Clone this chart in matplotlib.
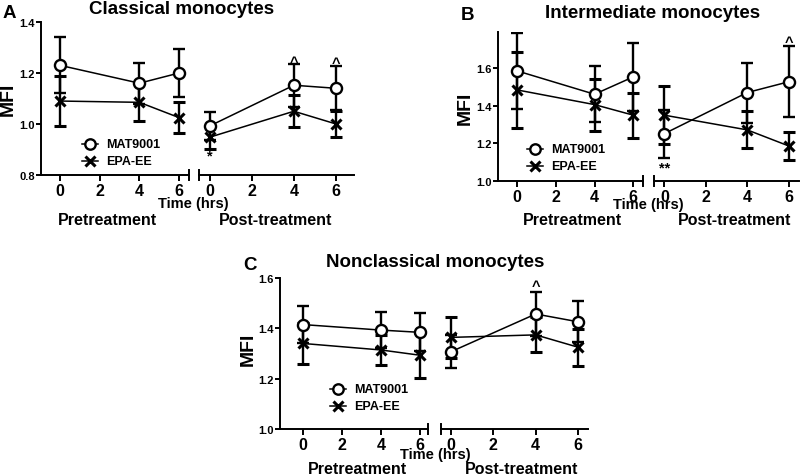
import matplotlib
matplotlib.use('Agg')
import matplotlib.pyplot as plt
import numpy as np

plt.rcParams['font.family'] = ['Liberation Sans', 'DejaVu Sans']
plt.rcParams['font.weight'] = 'bold'

# Данные: время (ч) и значения MFI со стандартными ошибками
times = [0, 4, 6]

mat_pre_A = [1.23, 1.16, 1.20]
mat_pre_A_err = [0.11, 0.08, 0.095]
epa_pre_A = [1.09, 1.085, 1.025]
epa_pre_A_err = [0.097, 0.075, 0.06]
mat_post_A = [0.992, 1.152, 1.14]
mat_post_A_err = [0.055, 0.085, 0.087]
epa_post_A = [0.948, 1.05, 1.0]
epa_post_A_err = [0.045, 0.062, 0.052]

mat_pre_B = [1.584, 1.46, 1.552]
mat_pre_B_err = [0.2, 0.148, 0.18]
epa_pre_B = [1.483, 1.405, 1.349]
epa_pre_B_err = [0.2, 0.138, 0.12]
mat_post_B = [1.251, 1.469, 1.526]
mat_post_B_err = [0.127, 0.159, 0.188]
epa_post_B = [1.349, 1.271, 1.186]
epa_post_B_err = [0.155, 0.098, 0.076]

mat_pre_C = [1.415, 1.393, 1.384]
mat_pre_C_err = [0.072, 0.071, 0.075]
epa_pre_C = [1.340, 1.314, 1.293]
epa_pre_C_err = [0.08, 0.06, 0.09]
mat_post_C = [1.307, 1.457, 1.426]
mat_post_C_err = [0.066, 0.089, 0.081]
epa_post_C = [1.364, 1.374, 1.325]
epa_post_C_err = [0.08, 0.07, 0.073]

W, H = 800, 477
fig = plt.figure(figsize=(W / 100, H / 100), dpi=100)


def px_axes(x0, x1, ytop, ybot):
    """Оси по пиксельным координатам"""
    return fig.add_axes([x0 / W, 1 - ybot / H, (x1 - x0) / W, (ybot - ytop) / H])


def draw_series(ax, mat, mat_err, epa, epa_err):
    ax.errorbar(times, epa, yerr=epa_err, color='black', lw=1.1, marker='x',
                ms=7, mew=2.2, elinewidth=1.7, capsize=4.5, capthick=1.7, zorder=3)
    ax.errorbar(times, mat, yerr=mat_err, color='black', lw=1.1, marker='o',
                ms=8, mfc='white', mew=1.7, elinewidth=1.7, capsize=4.5,
                capthick=1.7, zorder=4)


def style(ax, xlim, ylim, yticks, show_y):
    ax.set_xlim(*xlim)
    ax.set_ylim(*ylim)
    ax.set_xticks([0, 2, 4, 6])
    ax.set_xticklabels(['0', '2', '4', '6'], fontsize=11.5, fontweight='bold')
    for s in ['top', 'right']:
        ax.spines[s].set_visible(False)
    ax.spines['bottom'].set_linewidth(1.4)
    ax.tick_params(axis='x', direction='out', length=4, width=1.4, pad=2)
    if show_y:
        ax.spines['left'].set_linewidth(1.4)
        ax.set_yticks(yticks)
        ax.set_yticklabels([f'{v:.1f}' for v in yticks], fontsize=8, fontweight='bold')
        ax.tick_params(axis='y', direction='out', length=3.5, width=1.4, pad=1)
    else:
        ax.spines['left'].set_visible(False)
        ax.set_yticks([])
    ax.patch.set_alpha(0)


def break_mark(ax, side):
    x = 1 if side == 'right' else 0
    ax.plot([x, x], [-0.035, 0.035], transform=ax.transAxes, color='black',
            lw=1.4, clip_on=False)


def panel(letter, title, box, data, ylim, yticks, texts, marks, legend_xy):
    yaxis_x, left_end, right_start, right_end, ytop, ybot, xl_left, xl_right = box
    mat_pre, mat_pre_err, epa_pre, epa_pre_err, mat_post, mat_post_err, epa_post, epa_post_err = data

    ax1 = px_axes(yaxis_x, left_end, ytop, ybot)
    ax2 = px_axes(right_start, right_end, ytop, ybot)
    draw_series(ax1, mat_pre, mat_pre_err, epa_pre, epa_pre_err)
    draw_series(ax2, mat_post, mat_post_err, epa_post, epa_post_err)
    style(ax1, xl_left, ylim, yticks, True)
    style(ax2, xl_right, ylim, yticks, False)
    break_mark(ax1, 'right')
    break_mark(ax2, 'left')

    # Подписи панели
    (lx, ly), (tx, ty), (mx, my), (timex, timey), (prex, prey), (postx, posty) = texts
    fig.text(lx / W, 1 - ly / H, letter, fontsize=13.5, fontweight='bold', ha='center', va='center')
    fig.text(tx / W, 1 - ty / H, title, fontsize=13.5, fontweight='bold', ha='center', va='center')
    fig.text(mx / W, 1 - my / H, 'MFI', fontsize=14, fontweight='bold', ha='center',
             va='center', rotation=90)
    fig.text(timex / W, 1 - timey / H, 'Time (hrs)', fontsize=10.5, fontweight='bold',
             ha='center', va='center')
    fig.text(prex / W, 1 - prey / H, 'Pretreatment', fontsize=11.5, fontweight='bold',
             ha='center', va='center')
    fig.text(postx / W, 1 - posty / H, 'Post-treatment', fontsize=11.5, fontweight='bold',
             ha='center', va='center')

    # Значки значимости
    for x, y, s in marks:
        ax2.text(x, y, s, fontsize=10.5, fontweight='bold', ha='center', va='center')

    # Легенда
    hx, hy = legend_xy
    for i, (mk, lab) in enumerate([('o', 'MAT9001'), ('x', 'EPA-EE')]):
        yy = 1 - (hy + i * 17) / H
        fig.add_artist(plt.Line2D([(hx - 8) / W, (hx + 8) / W], [yy, yy], color='black',
                                  lw=1.1, marker=None))
        fig.add_artist(plt.Line2D([hx / W], [yy], color='black', marker=mk,
                                  ms=7.5 if mk == 'o' else 6.5, mfc='white',
                                  mew=1.7 if mk == 'o' else 2.2))
        fig.text((hx + 16) / W, yy, lab, fontsize=9, fontweight='bold', ha='left', va='center')


panel('A', 'Classical monocytes',
      (41, 189, 199, 354, 23, 176, (-0.96, 6.5), (-0.5, 6.85)),
      (mat_pre_A, mat_pre_A_err, epa_pre_A, epa_pre_A_err,
       mat_post_A, mat_post_A_err, epa_post_A, epa_post_A_err),
      (0.8, 1.4), [0.8, 1.0, 1.2, 1.4],
      ((9, 13), (182, 9), (8, 99), (193, 204), (107, 221), (276, 221)),
      [(0, 0.875, '*'), (4, 1.245, '^'), (6, 1.24, '^')],
      (90, 145))

panel('B', 'Intermediate monocytes',
      (498, 643, 654, 799, 33, 182, (-0.98, 6.5), (-0.5, 6.5)),
      (mat_pre_B, mat_pre_B_err, epa_pre_B, epa_pre_B_err,
       mat_post_B, mat_post_B_err, epa_post_B, epa_post_B_err),
      (1.0, 1.79), [1.0, 1.2, 1.4, 1.6],
      ((468, 15), (653, 13), (465, 108), (648, 205), (572, 221), (735, 221)),
      [(0, 1.07, '**'), (6, 1.735, '^')],
      (535, 150))

panel('C', 'Nonclassical monocytes',
      (280, 428, 441, 588, 279, 430, (-1.16, 6.4), (-0.47, 6.47)),
      (mat_pre_C, mat_pre_C_err, epa_pre_C, epa_pre_C_err,
       mat_post_C, mat_post_C_err, epa_post_C, epa_post_C_err),
      (1.0, 1.6), [1.0, 1.2, 1.4, 1.6],
      ((250, 265), (435, 263), (248, 349), (435, 455), (357, 470), (522, 470)),
      [(4, 1.57, '^')],
      (338, 390))

fig.savefig('out.png', dpi=100)
